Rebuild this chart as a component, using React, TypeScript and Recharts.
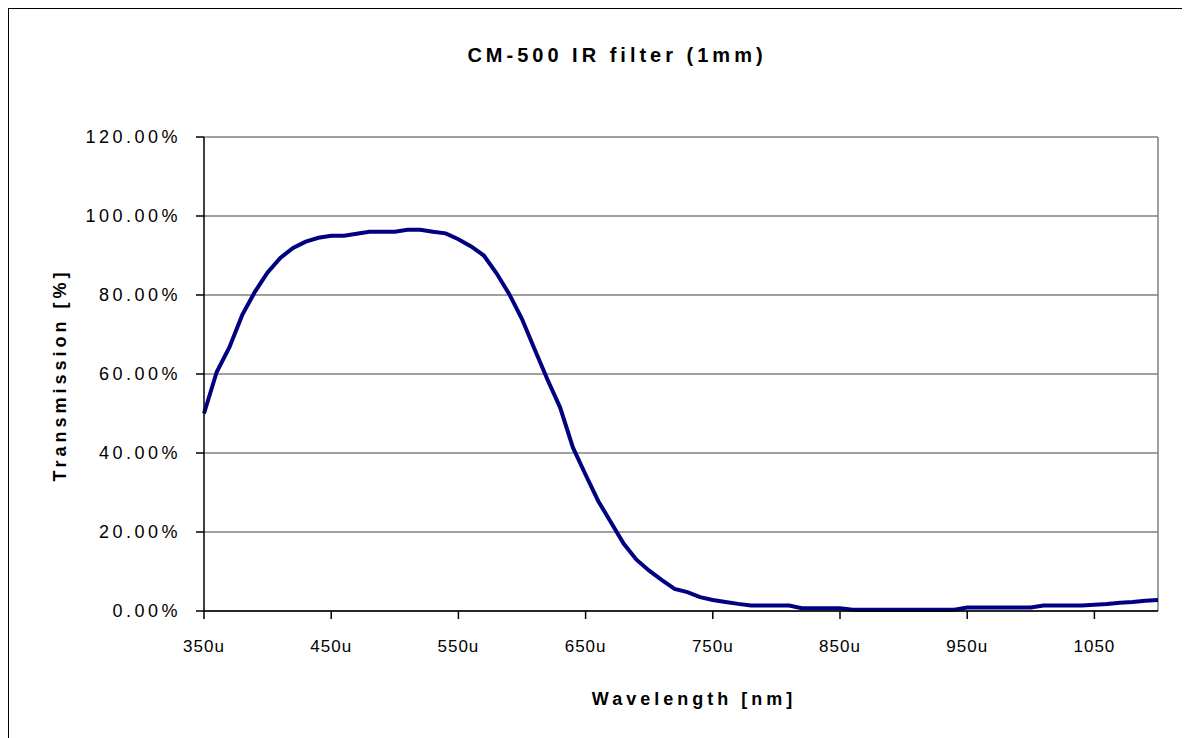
import React from 'react';
import { LineChart, Line, XAxis, YAxis, CartesianGrid, ReferenceLine } from 'recharts';

// wavelength in nm, sampled every 10 nm
const wavelengths = [
  350, 360, 370, 380, 390, 400, 410, 420, 430, 440,
  450, 460, 470, 480, 490, 500, 510, 520, 530, 540,
  550, 560, 570, 580, 590, 600, 610, 620, 630, 640,
  650, 660, 670, 680, 690, 700, 710, 720, 730, 740,
  750, 760, 770, 780, 790, 800, 810, 820, 830, 840,
  850, 860, 870, 880, 890, 900, 910, 920, 930, 940,
  950, 960, 970, 980, 990, 1000, 1010, 1020, 1030, 1040,
  1050, 1060, 1070, 1080, 1090, 1100,
];

// transmission in percent
const transmission = [
  50.0, 60.5, 66.8, 74.9, 80.8, 85.7, 89.4, 91.9, 93.5, 94.5,
  95.0, 95.0, 95.5, 96.0, 96.0, 96.0, 96.5, 96.5, 96.0, 95.6,
  94.1, 92.3, 90.0, 85.5, 80.2, 73.9, 66.2, 58.6, 51.5, 41.4,
  34.5, 27.8, 22.4, 17.0, 13.0, 10.2, 7.8, 5.6, 4.8, 3.5,
  2.8, 2.3, 1.8, 1.4, 1.4, 1.4, 1.4, 0.7, 0.7, 0.7,
  0.7, 0.3, 0.3, 0.3, 0.3, 0.3, 0.3, 0.3, 0.3, 0.3,
  0.9, 0.9, 0.9, 0.9, 0.9, 0.9, 1.4, 1.4, 1.4, 1.4,
  1.6, 1.8, 2.1, 2.3, 2.6, 2.8,
];

const xTicks = [350, 450, 550, 650, 750, 850, 950, 1050];
const xTickLabels = ['350u', '450u', '550u', '650u', '750u', '850u', '950u', '1050'];
const yTicks = [0, 20, 40, 60, 80, 100, 120];

const data = wavelengths.map((wl, i) => ({ wl, t: transmission[i] }));

const font = '"Liberation Sans", Arial, sans-serif';

// the chart frame runs past the right and bottom edges of the page
const W = 1260;
const H = 790;

export default function App() {
  return (
    <>
      <style>{'html,body{overflow:hidden;}'}</style>
      <div style={{ position: 'relative', width: W, height: H, background: '#fff', fontFamily: font, borderTop: '1px solid #000', borderLeft: '1px solid #000', boxSizing: 'border-box' }}>
        <div style={{ position: 'absolute', left: -1, top: -1 }}>
          <LineChart width={W} height={H} data={data} margin={{ top: 129, right: W - 1150, bottom: H - 603 - 60, left: 96 }}>
            <CartesianGrid vertical={false} stroke="#808080" strokeWidth={1.5} />
            <ReferenceLine x={1100} stroke="#808080" strokeWidth={1.5} />
            <XAxis
              dataKey="wl"
              type="number"
              domain={[350, 1100]}
              ticks={xTicks}
              tickFormatter={(v: number, i: number) => xTickLabels[i]}
              height={60}
              tickSize={8}
              tickMargin={21}
              stroke="#000"
              strokeWidth={1.5}
              tick={{ fill: '#000', fontSize: 17, fontFamily: font, letterSpacing: 1 }}
            />
            <YAxis
              type="number"
              domain={[0, 120]}
              ticks={yTicks}
              tickFormatter={(v: number) => v.toFixed(2) + '%'}
              width={100}
              tickSize={8}
              tickMargin={15}
              stroke="#000"
              strokeWidth={1.5}
              tick={{ fill: '#000', fontSize: 18, fontFamily: font, letterSpacing: 3.5 }}
            />
            <Line
              type="linear"
              dataKey="t"
              stroke="#000080"
              strokeWidth={4}
              dot={false}
              isAnimationActive={false}
            />
          </LineChart>
        </div>

        <div style={{ position: 'absolute', left: -1, top: 34, width: 1218, textAlign: 'center', fontSize: 20, lineHeight: '24px', fontWeight: 'bold', letterSpacing: 4 }}>
          CM-500 IR filter (1mm)
        </div>

        <div style={{ position: 'absolute', left: 485, top: 679, width: 400, textAlign: 'center', fontSize: 18, lineHeight: '22px', fontWeight: 'bold', letterSpacing: 4 }}>
          Wavelength [nm]
        </div>

        <div style={{ position: 'absolute', left: -99, top: 355, width: 300, textAlign: 'center', fontSize: 18, lineHeight: '22px', fontWeight: 'bold', letterSpacing: 4, transform: 'rotate(-90deg)' }}>
          Transmission [%]
        </div>
      </div>
    </>
  );
}
